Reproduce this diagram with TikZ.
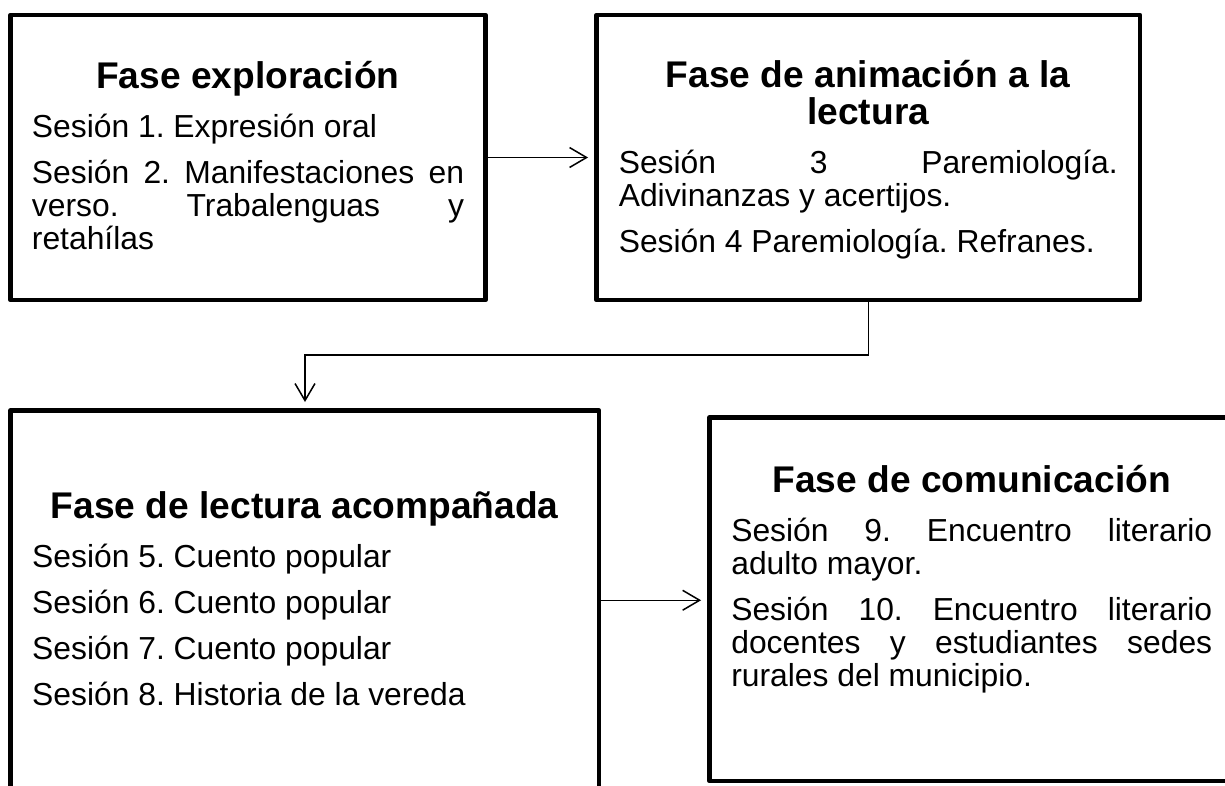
\documentclass[tikz,border=0pt]{standalone}
\usepackage{fontspec}
\setmainfont{Liberation Sans}
\usetikzlibrary{arrows.meta}
\frenchspacing
\newcommand{\titulo}[1]{{\centering\fontsize{14}{13.95}\selectfont\bfseries #1\par}\vspace{1.2pt}}
\begin{document}
\begin{tikzpicture}[x=0.377pt,y=0.377pt,
    caja/.style={draw,line width=1.77pt,line join=round,inner sep=0pt},
    texto/.style={anchor=base,inner sep=0pt,align=justify,font=\fontsize{12}{12.44}\selectfont,
      execute at begin node={\frenchspacing\setlength{\parindent}{0pt}\setlength{\parskip}{4.9pt}\hyphenpenalty=10000\tolerance=10000\hbadness=10000}},
    flecha/.style={line width=0.57pt,-{Straight Barb[length=6.4pt,width=7.5pt]},shorten >=2.3pt}]
    \useasboundingbox (0,0) rectangle (1225,-785);
    \clip (0,0) rectangle (1225,-785);

    \node[caja,minimum width=179.08pt,minimum height=107.45pt] (fase1) at (248,-157.5) {};
    \node[caja,minimum width=204.9pt,minimum height=107.45pt] (fase2) at (868.25,-157.5) {};
    \node[caja,minimum width=221.9pt,minimum height=143.1pt] (fase3) at (304.75,-600.25) {};
    \node[caja,minimum width=197.7pt,minimum height=137pt] (fase4) at (971.75,-599.25) {};

    \node[texto,text width=162.9pt] (texto1) at (248,-88) {\titulo{Fase exploración}Sesión 1. Expresión oral\par Sesión 2. Manifestaciones en\linebreak verso. Trabalenguas y\linebreak retahílas};
    \node[texto,text width=188.1pt] (texto2) at (868.25,-87) {\titulo{Fase de animación a la\\lectura}Sesión 3 Paremiología.\linebreak Adivinanzas y acertijos.\par Sesión 4 Paremiología. Refranes.};
    \node[texto,text width=205.5pt] (texto3) at (304.75,-518) {\titulo{Fase de lectura acompañada}Sesión 5. Cuento popular\par Sesión 6. Cuento popular\par Sesión 7. Cuento popular\par Sesión 8. Historia de la vereda};
    \node[texto,text width=181.3pt] (texto4) at (971.75,-492) {\titulo{Fase de comunicación}Sesión 9. Encuentro literario\linebreak adulto mayor.\par Sesión 10. Encuentro literario\linebreak docentes y estudiantes sedes\linebreak rurales del municipio.};

    \coordinate (codo) at (305,-355);
    \draw[flecha] (fase1.east) -- (fase2.west);
    \draw[flecha] (fase2.south) |- (codo) -- (codo |- fase3.north);
    \draw[flecha] (fase3.east) -- (fase3.east -| fase4.west);
\end{tikzpicture}
\end{document}
